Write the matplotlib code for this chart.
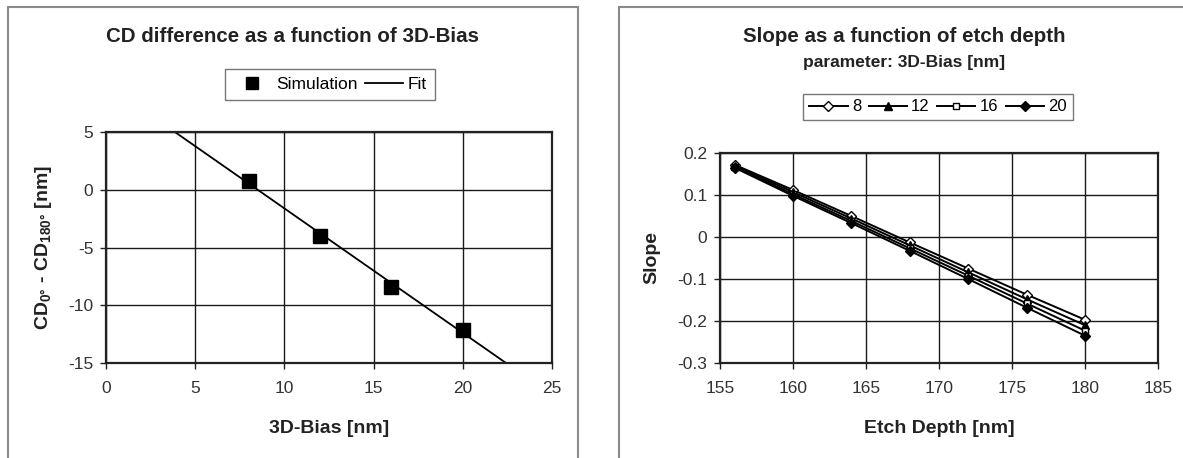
import numpy as np
import matplotlib
matplotlib.use("Agg")
import matplotlib.pyplot as plt
from matplotlib.patches import Rectangle
from matplotlib.ticker import FuncFormatter
from matplotlib.lines import Line2D

plt.rcParams['font.family'] = ['Liberation Sans', 'DejaVu Sans']
plt.rcParams['axes.unicode_minus'] = False
plt.rcParams['mathtext.fontset'] = 'custom'
plt.rcParams['mathtext.bf'] = 'Liberation Sans:bold'
plt.rcParams['mathtext.rm'] = 'Liberation Sans:bold'
plt.rcParams['mathtext.default'] = 'bf'

# ---- data: left chart ----
bias_nm = [8, 12, 16, 20]
cd_diff_nm = [0.8, -4.0, -8.4, -12.1]

# ---- data: right chart ----
etch_depth_nm = [156, 160, 164, 168, 172, 176, 180]
slope_bias_8 = [0.172, 0.112, 0.050, -0.013, -0.075, -0.137, -0.197]
slope_bias_12 = [0.170, 0.107, 0.044, -0.020, -0.084, -0.148, -0.210]
slope_bias_16 = [0.167, 0.102, 0.038, -0.027, -0.092, -0.158, -0.223]
slope_bias_20 = [0.165, 0.098, 0.033, -0.033, -0.100, -0.168, -0.235]
series_labels = ['8', '12', '16', '20']

W, H = 1183, 458
fig = plt.figure(figsize=(W / 100, H / 100), dpi=100)


def fx(px):
    return px / W


def fy(py):
    return 1 - py / H


# panel frames
for x0, x1 in [(8, 578), (619, 1195)]:
    fig.patches.append(Rectangle((fx(x0), fy(475)), fx(x1 - x0), (475 - 7) / H,
                                 transform=fig.transFigure, fill=False,
                                 edgecolor='#8a8a8a', lw=1.5, zorder=0))

def style_axes(ax):
    ax.grid(True, color='#1a1a1a', lw=1.0)
    ax.set_axisbelow(True)
    for s in ax.spines.values():
        s.set_linewidth(1.6)
        s.set_color('#222222')
    ax.tick_params(direction='out', length=4, width=1.0, labelsize=12.5,
                   colors='#222222', labelcolor='#333333')
    ax.tick_params(axis='x', pad=9)
    ax.tick_params(axis='y', pad=5)


fmt = FuncFormatter(lambda v, p: '%g' % round(v, 6))

# ---- left chart ----
ax1 = fig.add_axes([fx(106), fy(363), fx(552 - 106), (363 - 132) / H])
style_axes(ax1)
ax1.set_xlim(0, 25)
ax1.set_ylim(-15, 5)
ax1.set_xticks(np.arange(0, 26, 5))
ax1.set_yticks(np.arange(-15, 6, 5))
ax1.xaxis.set_major_formatter(fmt)
ax1.yaxis.set_major_formatter(fmt)
coef = np.polyfit(bias_nm, cd_diff_nm, 1)
xfit = np.array([0, 25])
ax1.plot(xfit, np.polyval(coef, xfit), color='black', lw=1.3, zorder=2)
ax1.plot(bias_nm, cd_diff_nm, 's', color='black', ms=10.5, zorder=3)
ax1.set_xlabel('3D-Bias [nm]', fontsize=14, fontweight='bold', labelpad=17,
               color='#222222')
ax1.set_ylabel(r'CD$_{0°}$ - CD$_{180°}$ [nm]', fontsize=14, fontweight='bold',
               labelpad=10, color='#222222')

fig.text(fx(292), fy(36), 'CD difference as a function of 3D-Bias',
         ha='center', va='center', fontsize=14.8, fontweight='bold', color='#222222')

h_sim = Line2D([], [], marker='s', ls='none', color='black', ms=8)
h_fit = Line2D([], [], color='black', lw=1.3)
fig.legend([h_sim, h_fit], ['Simulation', 'Fit'], loc='center',
           bbox_to_anchor=(fx(330), fy(84.5)), ncol=2, fontsize=12.5,
           frameon=True, fancybox=False, edgecolor='#555555', borderpad=0.45,
           handlelength=2.2, columnspacing=0.4, handletextpad=0.3)

# ---- right chart ----
ax2 = fig.add_axes([fx(720), fy(363), fx(1158 - 720), (363 - 153) / H])
style_axes(ax2)
ax2.set_xlim(155, 185)
ax2.set_ylim(-0.3, 0.2)
ax2.set_xticks(np.arange(155, 186, 5))
ax2.set_yticks(np.arange(-0.3, 0.21, 0.1))
ax2.xaxis.set_major_formatter(fmt)
ax2.yaxis.set_major_formatter(fmt)

series = [slope_bias_8, slope_bias_12, slope_bias_16, slope_bias_20]
markers = ['D', '^', 's', 'D']
faces = ['white', 'black', 'white', 'black']
sizes = [5, 6, 5, 5]
handles = []
for ys, m, fc, ms, lab in zip(series, markers, faces, sizes, series_labels):
    h, = ax2.plot(etch_depth_nm, ys, marker=m, mfc=fc, mec='black', mew=1.0,
                  ms=ms, color='black', lw=1.4, label=lab)
    handles.append(h)
ax2.set_xlabel('Etch Depth [nm]', fontsize=14, fontweight='bold', labelpad=17,
               color='#222222')
ax2.set_ylabel('Slope', fontsize=14, fontweight='bold', labelpad=12, color='#222222')

fig.text(fx(904), fy(36), 'Slope as a function of etch depth',
         ha='center', va='center', fontsize=14.8, fontweight='bold', color='#222222')
fig.text(fx(904), fy(62), 'parameter: 3D-Bias [nm]',
         ha='center', va='center', fontsize=12.5, fontweight='bold', color='#222222')

fig.legend(handles, series_labels, loc='center', bbox_to_anchor=(fx(938), fy(107)),
           ncol=4, fontsize=12, frameon=True, fancybox=False, edgecolor='#555555',
           borderpad=0.35, handlelength=2.3, columnspacing=0.45, handletextpad=0.25)

fig.savefig('out.png', dpi=100, facecolor='white')
